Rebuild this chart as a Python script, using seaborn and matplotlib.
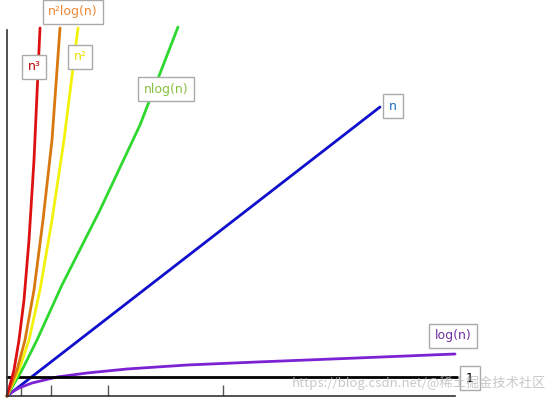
import matplotlib
matplotlib.use("Agg")
import matplotlib.pyplot as plt
import seaborn as sns

# curve samples (x, y in pixel-like units from the origin)
n_x = [0, 373]
n_y = [0, 289]
logn_x = [0, 5, 12, 25, 50, 80, 120, 180, 250, 350, 448]
logn_y = [0, 4, 8, 13, 19, 23, 27, 31, 34, 38, 42]
const_x = [0, 450]
const_y = [19, 19]
nlogn_x = [0, 15, 30, 55, 93, 133, 171]
nlogn_y = [0, 26, 56, 111, 186, 271, 369]
n2_x = [0, 12, 22, 33, 45, 57, 71]
n2_y = [0, 26, 56, 106, 176, 256, 368]
n2logn_x = [0, 10, 18, 27, 36, 45, 53]
n2logn_y = [0, 26, 56, 106, 176, 256, 368]
n3_x = [0, 7, 12, 17, 22, 27, 33]
n3_y = [0, 26, 56, 96, 156, 236, 368]

tick_pos = [14, 44, 101, 216]

sns.set_style("white")
fig = plt.figure(figsize=(5.47, 4.01), dpi=100)
ax = fig.add_axes([7 / 547, 5 / 401, 448 / 547, 366 / 401])

curves = [
    (n_x, n_y, "#1010cc"),
    (logn_x, logn_y, "#7b22d4"),
    (const_x, const_y, "black"),
    (nlogn_x, nlogn_y, "#2ed82e"),
    (n2_x, n2_y, "#f2f20a"),
    (n2logn_x, n2logn_y, "#d8780e"),
    (n3_x, n3_y, "#dd1111"),
]
for xs, ys, c in curves:
    sns.lineplot(x=xs, y=ys, ax=ax, color=c, linewidth=2, sort=False, estimator=None)
for line in ax.get_lines():
    line.set_clip_on(False)

ax.set_xlim(0, 448)
ax.set_ylim(0, 366)
ax.set_xticks(tick_pos)
ax.set_xticklabels([])
ax.set_yticks([])
ax.tick_params(axis="x", direction="in", length=8, width=1, color="#555555", bottom=True)
for s in ["top", "right"]:
    ax.spines[s].set_visible(False)
for s in ["left", "bottom"]:
    ax.spines[s].set_color("#333333")
    ax.spines[s].set_linewidth(1.2)

box = dict(boxstyle="square,pad=0.45", fc="white", ec="#aaaaaa", lw=1)
labels = [
    (27, 329, "n³", "#c00000"),
    (66, 384, "n²log(n)", "#ee8833"),
    (73, 339, "n²", "#e8e000"),
    (159, 307, "nlog(n)", "#88c040"),
    (386, 290, "n", "#1f6fc0"),
    (446, 60, "log(n)", "#7030a0"),
    (463, 18, "1", "black"),
]
for x, y, t, c in labels:
    ax.text(x, y, t, color=c, fontsize=9, ha="center", va="center", bbox=box, clip_on=False)

fig.text(0.998, 0.045, "https://blog.csdn.net/@稀土掘金技术社区", ha="right", va="center",
         fontsize=9.5, color="#bbbbbb", alpha=0.8, family=["Noto Sans CJK SC", "DejaVu Sans"])

fig.savefig("out.png", dpi=100)
